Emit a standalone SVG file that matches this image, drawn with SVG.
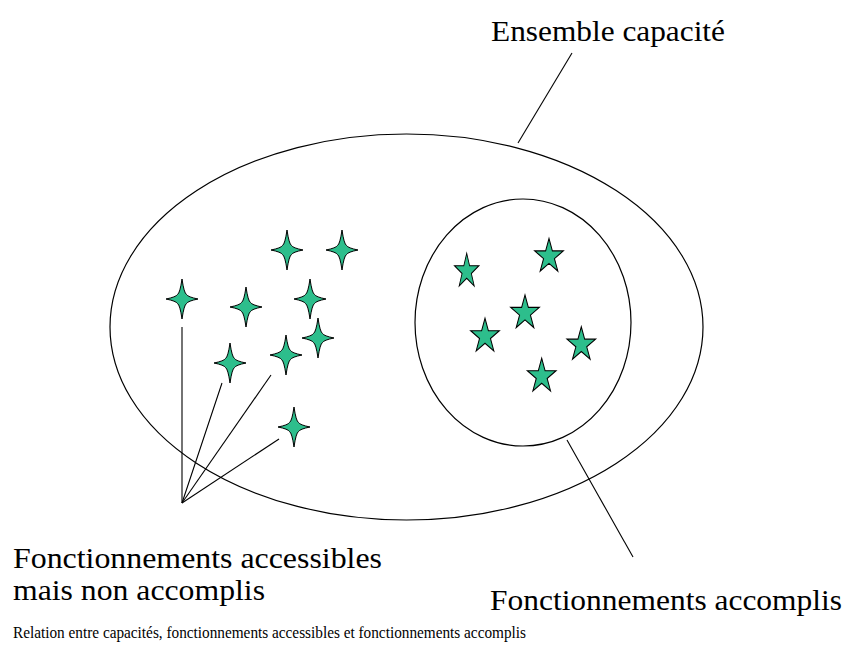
<svg xmlns="http://www.w3.org/2000/svg" width="846" height="648" viewBox="0 0 846 648">
<defs>
<style>
.sh{fill:none;stroke:#000;stroke-width:1.2}
.ln{stroke:#000;stroke-width:1.1;fill:none}
.st{fill:#2dbe8c;stroke:#000;stroke-width:1;stroke-linejoin:miter}
.lb{font-size:30px;fill:#000}
.cap{font-size:16px;fill:#000}
</style>
<path id="s4" d="M0,-20 Q2,-6 4.5,-4.5 Q6,-2 16,0 Q6,2 4.5,4.5 Q2,6 0,20 Q-2,6 -4.5,4.5 Q-6,2 -16,0 Q-6,-2 -4.5,-4.5 Q-2,-6 0,-20 Z"/>
<path id="s5" d="M0,-15 L3.37,-4.64 L14.27,-4.64 L5.45,1.77 L8.82,12.14 L0,5.73 L-8.82,12.14 L-5.45,1.77 L-14.27,-4.64 L-3.37,-4.64 Z"/>
</defs>
<rect width="846" height="648" fill="#fff"/>

<g id="ensemble-capacite">
<ellipse class="sh" cx="406.5" cy="327" rx="296.5" ry="193"/>
</g>
<g id="fonctionnements-accomplis">
<ellipse class="sh" cx="523" cy="322.5" rx="108" ry="123.5"/>
</g>

<g id="accessibles-stars">
<use href="#s4" class="st" x="287" y="250"/>
<use href="#s4" class="st" x="342" y="250"/>
<use href="#s4" class="st" x="182" y="299"/>
<use href="#s4" class="st" x="246" y="307"/>
<use href="#s4" class="st" x="310" y="299"/>
<use href="#s4" class="st" x="318" y="338"/>
<use href="#s4" class="st" x="230" y="363"/>
<use href="#s4" class="st" x="286" y="355"/>
<use href="#s4" class="st" x="294" y="427"/>
</g>

<g id="accomplis-stars">
<use href="#s5" class="st" transform="translate(466.7,271.3) scale(0.85,1.2)"/>
<use href="#s5" class="st" transform="translate(549,256.5) scale(1,1.2)"/>
<use href="#s5" class="st" transform="translate(525,313) scale(1,1.2)"/>
<use href="#s5" class="st" transform="translate(485,336.3) scale(1,1.2)"/>
<use href="#s5" class="st" transform="translate(581.3,344.7) scale(1,1.2)"/>
<use href="#s5" class="st" transform="translate(541.7,376.3) scale(1,1.2)"/>
</g>

<g id="connectors">
<line class="ln" x1="518" y1="143" x2="572" y2="53"/>
<line class="ln" x1="567" y1="440" x2="633" y2="557"/>
<line class="ln" x1="182" y1="503" x2="182" y2="327"/>
<line class="ln" x1="182" y1="503" x2="222" y2="383"/>
<line class="ln" x1="182" y1="503" x2="271" y2="375"/>
<line class="ln" x1="182" y1="503" x2="279" y2="439"/>
</g>

<g id="labels" font-family="'Liberation Serif', 'DejaVu Serif', 'Times New Roman', serif">
<text class="lb" x="491" y="41" textLength="234" lengthAdjust="spacingAndGlyphs">Ensemble capacité</text>
<text class="lb" x="13" y="568" textLength="369" lengthAdjust="spacingAndGlyphs">Fonctionnements accessibles</text>
<text class="lb" x="13" y="600" textLength="252" lengthAdjust="spacingAndGlyphs">mais non accomplis</text>
<text class="lb" x="490" y="610" textLength="352" lengthAdjust="spacingAndGlyphs">Fonctionnements accomplis</text>
<text class="cap" x="13" y="638" textLength="513" lengthAdjust="spacingAndGlyphs">Relation entre capacités, fonctionnements accessibles et fonctionnements accomplis</text>
</g>
</svg>
